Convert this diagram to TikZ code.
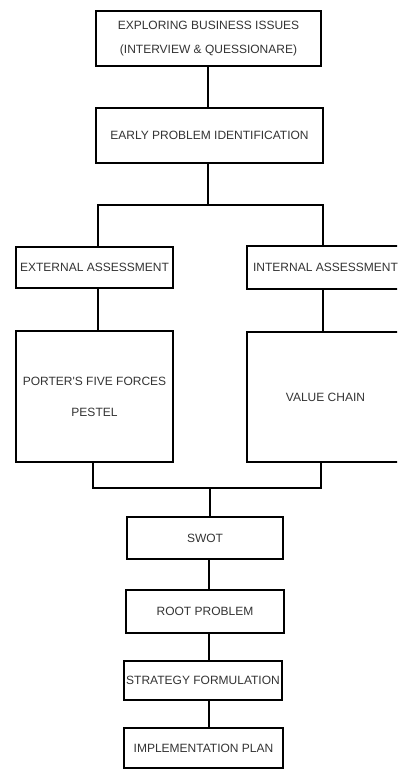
\documentclass[tikz,border=0pt]{standalone}
\usepackage{fontspec}
\setmainfont{Liberation Sans}
\usetikzlibrary{positioning}
\tikzset{processNode/.style={shape=rectangle, draw, line width=1.6pt, align=center, inner sep=0pt, font=\fontsize{12}{24}\selectfont, text=black!80}}
\tikzset{linkLine/.style={line width=1.6pt}}

\begin{document}
\begin{tikzpicture}[x=1pt, y=-1pt]

\useasboundingbox (0,0) rectangle (397,770);
\clip (0,0) rectangle (397,770);

% Problem finding
\node[processNode, minimum width=225, minimum height=55] (explore) at (208.5,38.5) {EXPLORING BUSINESS ISSUES\\(INTERVIEW \& QUESSIONARE)};
\node[processNode, minimum width=227, minimum height=55] (early) at (209.5,135.5) {EARLY PROBLEM IDENTIFICATION};

% Assessments
\node[processNode, minimum width=157, minimum height=41] (ext) at (94.5,267.5) {EXTERNAL ASSESSMENT};
\node[processNode, minimum width=157, minimum height=43] (int) at (325.5,267.5) {INTERNAL ASSESSMENT};
\node[processNode, minimum width=157, minimum height=131] (porter) at (94.5,396.5) {PORTER\textquotesingle S FIVE FORCES\\[7pt]PESTEL};
\node[processNode, minimum width=157, minimum height=130] (value) at (325.5,397) {VALUE CHAIN};

% Analysis and plan
\node[processNode, minimum width=156, minimum height=42] (swot) at (205,538) {SWOT};
\node[processNode, minimum width=158, minimum height=43] (root) at (205,611.5) {ROOT PROBLEM};
\node[processNode, minimum width=158, minimum height=39] (strategy) at (203,680.5) {STRATEGY FORMULATION};
\node[processNode, minimum width=159, minimum height=40] (impl) at (203.5,748) {IMPLEMENTATION PLAN};

% Junctions
\coordinate (axisTop) at (208,0);
\coordinate (topL) at (98,205);
\coordinate (topR) at (323,205);
\coordinate (botL) at (93,488);
\coordinate (botR) at (321,488);
\coordinate (botM) at (210,488);
\coordinate (axisBot) at (209,0);

% Links
\draw[linkLine] (axisTop |- explore.south) -- (axisTop |- early.north);
\draw[linkLine] (axisTop |- early.south) -- (axisTop |- topL);
\draw[linkLine] (topL |- ext.north) -- (topL) -- (topR) -- (topR |- int.north);
\draw[linkLine] (topL |- ext.south) -- (topL |- porter.north);
\draw[linkLine] (topR |- int.south) -- (topR |- value.north);
\draw[linkLine] (botL |- porter.south) -- (botL) -- (botR) -- (botR |- value.south);
\draw[linkLine] (botM) -- (botM |- swot.north);
\draw[linkLine] (axisBot |- swot.south) -- (axisBot |- root.north);
\draw[linkLine] (axisBot |- root.south) -- (axisBot |- strategy.north);
\draw[linkLine] (axisBot |- strategy.south) -- (axisBot |- impl.north);

\end{tikzpicture}
\end{document}
